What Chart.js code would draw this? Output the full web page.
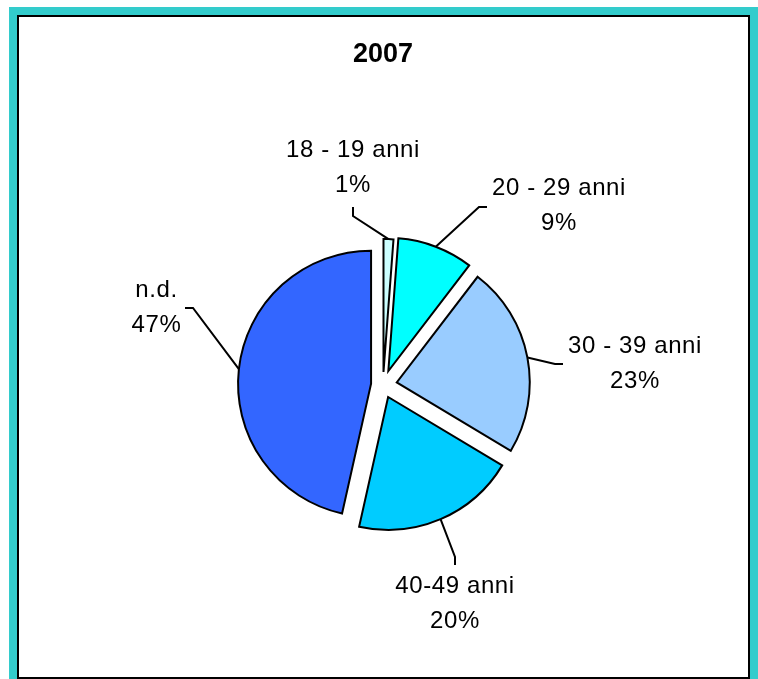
<!DOCTYPE html>
<html><head><meta charset="utf-8">
<script src="https://cdn.jsdelivr.net/npm/chart.js@4"></script>
<style>
html,body{margin:0;padding:0;background:#fff;overflow:hidden;width:758px;height:679px}
#frame{position:absolute;left:9px;top:7px;width:760px;height:680px;background:#33CCCC}
#inner{position:absolute;left:17px;top:15px;width:733px;height:664px;box-sizing:border-box;border:2px solid #000;background:#fff}
#c{position:absolute;left:0;top:0}
</style></head><body>
<div id="frame"></div><div id="inner"></div>
<canvas id="c" width="758" height="679"></canvas>
<script>
// ---- data ----
const chartTitle = '2007';
const categories = ['18 - 19 anni', '20 - 29 anni', '30 - 39 anni', '40-49 anni', 'n.d.'];
const shares = [1.2, 9.2, 23.2, 19.9, 46.5];
const sliceColors = ['#CCFFFF', '#00FFFF', '#99CCFF', '#00CCFF', '#3366FF'];

// ---- layout (not data) ----
const explode = [13, 15, 14, 13, 12];
const labelBoxes = [
  {x: 353, y: 167.5, elbow: [0, 48.5], end: [0, 39.5]},
  {x: 559, y: 206, elbow: [-80, 1], end: [-72, 1]},
  {x: 635, y: 364, elbow: [-80, 0], end: [-72, 0]},
  {x: 455, y: 604, elbow: [0, -47], end: [0, -39]},
  {x: 156.5, y: 307.5, elbow: [36.5, 0.5], end: [28.5, 0.5]}
];

const total = shares.reduce((a, b) => a + b, 0);
const pctText = shares.map(v => Math.round(v * 100 / total + 1e-6) + '%');

const explodePlugin = {
  id: 'explode',
  beforeDatasetDraw(chart, args) {
    const ctx = chart.ctx;
    args.meta.data.forEach((arc, i) => {
      const mid = (arc.startAngle + arc.endAngle) / 2;
      ctx.save();
      ctx.translate(Math.cos(mid) * explode[i], Math.sin(mid) * explode[i]);
      arc.draw(ctx);
      ctx.restore();
    });
    return false;
  },
  afterDatasetsDraw(chart) {
    const ctx = chart.ctx;
    const meta = chart.getDatasetMeta(0);
    meta.data.forEach((arc, i) => {
      const mid = (arc.startAngle + arc.endAngle) / 2;
      const cx = arc.x + Math.cos(mid) * explode[i];
      const cy = arc.y + Math.sin(mid) * explode[i];
      const r = arc.outerRadius;
      const sx = cx + Math.cos(mid) * r, sy = cy + Math.sin(mid) * r;
      const lb = labelBoxes[i];
      ctx.save();
      ctx.strokeStyle = '#000';
      ctx.lineWidth = 2;
      ctx.beginPath();
      ctx.moveTo(sx, sy);
      ctx.lineTo(lb.x + lb.elbow[0], lb.y + lb.elbow[1]);
      ctx.lineTo(lb.x + lb.end[0], lb.y + lb.end[1]);
      ctx.stroke();
      ctx.fillStyle = '#000';
      ctx.font = '24px "Liberation Sans", Arial, sans-serif';
      if ('letterSpacing' in ctx) ctx.letterSpacing = '0.6px';
      ctx.textAlign = 'center';
      ctx.textBaseline = 'middle';
      ctx.fillText(categories[i], lb.x, lb.y - 17.5);
      ctx.fillText(pctText[i], lb.x, lb.y + 17.5);
      ctx.restore();
    });
  }
};

new Chart(document.getElementById('c'), {
  type: 'pie',
  data: {
    labels: categories,
    datasets: [{
      data: shares,
      backgroundColor: sliceColors,
      borderColor: '#000',
      borderWidth: 2,
      borderJoinStyle: 'miter'
    }]
  },
  options: {
    responsive: false,
    devicePixelRatio: 1,
    animation: false,
    events: [],
    radius: 133,
    layout: {padding: {left: 8, right: 0, top: 0, bottom: 0}},
    plugins: {
      legend: {display: false},
      tooltip: {enabled: false},
      title: {
        display: true,
        text: chartTitle,
        color: '#000',
        font: {family: '"Liberation Sans", Arial, sans-serif', size: 27, weight: 'bold', lineHeight: 1.2},
        padding: {top: 38.8, bottom: 19.8}
      }
    }
  },
  plugins: [explodePlugin]
});
</script>
</body></html>
